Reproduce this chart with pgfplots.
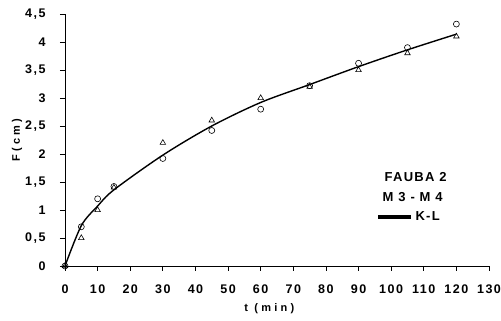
\documentclass[border=0pt]{standalone}
\usepackage{pgfplots}
\pgfplotsset{compat=1.18}
\usepackage{fontspec}
\setmainfont{Liberation Sans}
\newfontfamily\spaced[LetterSpace=30]{Liberation Sans}
\newfontfamily\lspaced[LetterSpace=10]{Liberation Sans}
\newfontfamily\tspaced[LetterSpace=12]{Liberation Sans}
\begin{document}
\begin{tikzpicture}
\path[use as bounding box] (-65pt,-55pt) rectangle (436pt,266pt);
\begin{axis}[
  scale only axis, width=424pt, height=252pt,
  xmin=0, xmax=130, ymin=0, ymax=4.5,
  axis lines*=left,
  axis line style={line width=0.8pt},
  tick align=outside, major tick length=5pt,
  tick style={line width=0.8pt, black},
  xtick={0,10,...,130},
  ytick={0,0.5,...,4.5},
  /pgf/number format/assume math mode=true,
  /pgf/number format/use comma,
  /pgf/number format/fixed,
  tick label style={font=\tspaced\bfseries\fontsize{12.5}{13}\selectfont},
  xticklabel style={anchor=center, yshift=-18pt},
  yticklabel style={anchor=east, xshift=-11pt},
  xlabel={t (min)},
  ylabel={F(cm)},
  label style={font=\spaced\bfseries\fontsize{11}{12}\selectfont},
  xlabel style={at={(axis description cs:0.482,0)}, anchor=center, yshift=-43pt},
  ylabel style={at={(axis description cs:0,0.5)}, anchor=center, xshift=0pt, yshift=48pt},
  legend style={draw=none, fill=none, at={(axis cs:95.3,0.875)}, anchor=west, inner sep=0pt,
    font=\lspaced\bfseries\fontsize{13}{14}\selectfont},
  legend cell align=left,
  legend image code/.code={\draw[line width=4.5pt] (0pt,0pt) -- (33pt,0pt);},
  clip=false,
]
\addplot[black, line width=1.4pt, smooth, tension=0.5] coordinates {
(0,0) (5,0.72) (10,1.07) (15,1.36) (30,1.98) (45,2.50) (60,2.92) (75,3.24) (90,3.56) (105,3.86) (120,4.14)};
\addlegendentry{K-L}
\addplot[only marks, mark=o, mark size=3pt, mark options={line width=0.6pt}, forget plot] coordinates {
(0,0) (5,0.7) (10,1.2) (15,1.42) (30,1.92) (45,2.42) (60,2.8) (75,3.22) (90,3.62) (105,3.9) (120,4.32)};
\addplot[only marks, mark=triangle, mark size=3.2pt, mark options={line width=0.6pt}, forget plot] coordinates {
(0,0) (5,0.5) (10,1.0) (15,1.4) (30,2.2) (45,2.6) (60,3.0) (75,3.2) (90,3.5) (105,3.8) (120,4.1)};
\node[font=\lspaced\bfseries\fontsize{13}{14}\selectfont] at (axis cs:107.5,1.59) {FAUBA 2};
\node[font=\lspaced\bfseries\fontsize{13}{14}\selectfont] at (axis cs:106.6,1.23) {M 3 - M 4};
\end{axis}
\end{tikzpicture}
\end{document}
